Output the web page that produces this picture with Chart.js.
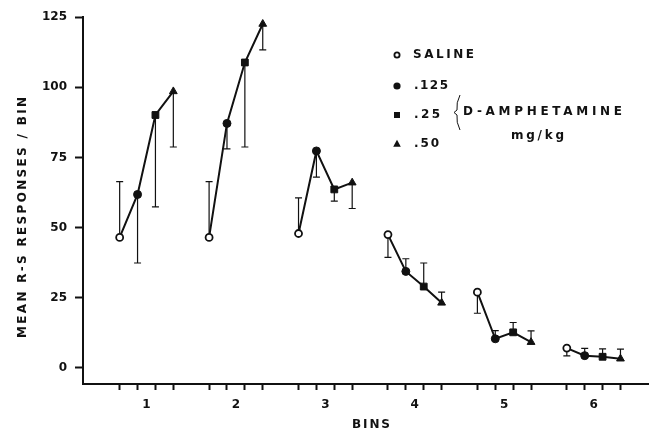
<!DOCTYPE html>
<html>
<head>
<meta charset="utf-8">
<script src="https://cdn.jsdelivr.net/npm/chart.js@4.4.1/dist/chart.umd.min.js"></script>
<style>
  html, body { margin: 0; padding: 0; background: #fff; }
</style>
</head>
<body>
<canvas id="chart" width="654" height="433"></canvas>
<script>
// x categories (bins) and where each dose sits inside a bin
const bins = [1, 2, 3, 4, 5, 6];
const doseOffsets = [-0.3, -0.1, 0.1, 0.3];
const doseLabels = ["SALINE", ".125", ".25", ".50"];
const yTicks = [0, 25, 50, 75, 100, 125];

// mean R-S responses per bin, one array per dose
const saline  = [46.5, 46.5, 47.9, 47.5, 27.0, 7.1];
const dose125 = [61.8, 87.1, 77.3, 34.4, 10.4, 4.4];
const dose25  = [90.1, 108.8, 63.6, 29.0, 12.7, 4.0];
const dose50  = [98.5, 122.5, 66.0, 23.2, 9.2, 3.3];

// where each error bar ends
const salineErr  = [66.4, 66.4, 60.6, 39.4, 19.5, 4.3];
const dose125Err = [37.4, 78.0, 68.0, 38.9, 13.3, 7.0];
const dose25Err  = [57.4, 78.7, 59.4, 37.4, 16.2, 6.8];
const dose50Err  = [78.7, 113.3, 56.8, 27.0, 13.2, 6.7];

const series = [saline, dose125, dose25, dose50];
const errors = [salineErr, dose125Err, dose25Err, dose50Err];

const FONT = "DejaVu Sans";
Chart.defaults.font.family = FONT;
Chart.defaults.color = "#111";

// one line per bin, four dose points each
const datasets = bins.map((b, i) => ({
  data: doseOffsets.map((o, j) => ({ x: b + o, y: series[j][i] })),
  borderColor: "#111",
  borderWidth: 2,
  pointStyle: ["circle", "circle", "rect", "triangle"],
  pointRadius: [3.5, 4, 4.8, 4.5],
  pointBackgroundColor: ["#fff", "#111", "#111", "#111"],
  pointBorderColor: "#111",
  pointBorderWidth: [1.8, 1, 1, 1],
  tension: 0
}));

// tick positions on x: one per dose point plus the bin centres (label only)
const xTickValues = [];
bins.forEach(b => {
  doseOffsets.forEach(o => xTickValues.push(+(b + o).toFixed(2)));
  xTickValues.push(b);
});
xTickValues.sort((a, b) => a - b);

function spacedText(ctx, text, x, y, width) {
  ctx.letterSpacing = "0px";
  const w = ctx.measureText(text).width;
  const ls = text.length > 1 ? Math.max(0, (width - w) / (text.length - 1)) : 0;
  ctx.letterSpacing = ls + "px";
  ctx.textAlign = "left";
  ctx.textBaseline = "middle";
  ctx.fillText(text, x, y);
  ctx.letterSpacing = "0px";
}

function marker(ctx, style, x, y, r, filled) {
  ctx.beginPath();
  if (style === "circle") {
    ctx.arc(x, y, r, 0, Math.PI * 2);
  } else if (style === "rect") {
    ctx.rect(x - r, y - r, r * 2, r * 2);
  } else {
    ctx.moveTo(x, y - r * 1.1);
    ctx.lineTo(x + r, y + r * 0.7);
    ctx.lineTo(x - r, y + r * 0.7);
    ctx.closePath();
  }
  if (filled) ctx.fill(); else ctx.stroke();
}

const errorBars = {
  id: "errorBars",
  beforeDatasetsDraw(chart) {
    const ctx = chart.ctx;
    const y = chart.scales.y;
    ctx.save();
    ctx.strokeStyle = "#111";
    ctx.lineWidth = 1.2;
    chart.data.datasets.forEach((ds, i) => {
      chart.getDatasetMeta(i).data.forEach((pt, j) => {
        const yEnd = y.getPixelForValue(errors[j][i]);
        ctx.beginPath();
        ctx.moveTo(pt.x, pt.y);
        ctx.lineTo(pt.x, yEnd);
        ctx.moveTo(pt.x - 3.5, yEnd);
        ctx.lineTo(pt.x + 3.5, yEnd);
        ctx.stroke();
      });
    });
    ctx.restore();
  }
};

const annotations = {
  id: "annotations",
  afterDraw(chart) {
    const ctx = chart.ctx;
    ctx.save();
    ctx.fillStyle = "#111";
    ctx.strokeStyle = "#111";

    // legend markers
    ctx.lineWidth = 1.8;
    marker(ctx, "circle", 397, 55, 2.6, false);
    marker(ctx, "circle", 397, 86, 3.6, true);
    marker(ctx, "rect", 397, 115, 3, true);
    marker(ctx, "triangle", 397, 144, 3.8, true);

    ctx.font = "bold 12px " + FONT;
    spacedText(ctx, doseLabels[0], 413, 55, 61);
    spacedText(ctx, doseLabels[1], 414, 86, 34);
    spacedText(ctx, doseLabels[2], 414, 115, 26);
    spacedText(ctx, doseLabels[3], 414, 144, 25);
    spacedText(ctx, "D-AMPHETAMINE", 463, 112, 159);
    ctx.font = "bold 12px " + FONT;
    spacedText(ctx, "mg/kg", 511, 136, 53);

    // brace
    ctx.lineWidth = 1;
    ctx.beginPath();
    ctx.moveTo(460, 95);
    ctx.quadraticCurveTo(456, 103, 457, 110);
    ctx.lineTo(454, 112.5);
    ctx.lineTo(457, 115);
    ctx.quadraticCurveTo(456, 122, 460, 130);
    ctx.stroke();

    // axis titles
    ctx.font = "bold 12px " + FONT;
    spacedText(ctx, "BINS", 352, 425, 38);
    ctx.translate(23, 338);
    ctx.rotate(-Math.PI / 2);
    spacedText(ctx, "MEAN R-S RESPONSES / BIN", 0, 0, 241);
    ctx.restore();
  }
};

new Chart(document.getElementById("chart"), {
  type: "line",
  data: { datasets },
  options: {
    responsive: false,
    animation: false,
    layout: { padding: { top: 17, left: 0, right: 2, bottom: 0 } },
    plugins: { legend: { display: false }, tooltip: { enabled: false } },
    scales: {
      x: {
        type: "linear",
        min: 0.29,
        max: 6.61,
        afterBuildTicks: s => { s.ticks = xTickValues.map(v => ({ value: v })); },
        afterFit: s => { s.height = 49; },
        grid: {
          drawOnChartArea: false,
          tickLength: 6,
          tickWidth: 2,
          tickColor: c => Number.isInteger(c.tick.value) ? "rgba(0,0,0,0)" : "#111"
        },
        border: { color: "#111", width: 2 },
        ticks: {
          autoSkip: false,
          maxRotation: 0,
          padding: 8,
          font: { size: 12, weight: "bold" },
          callback: v => Number.isInteger(v) ? String(v) : ""
        }
      },
      y: {
        min: -5.7,
        max: 125,
        afterBuildTicks: s => { s.ticks = yTicks.map(v => ({ value: v })); },
        afterFit: s => { s.width = 83; },
        grid: { drawOnChartArea: false, tickLength: 8, tickWidth: 2, tickColor: "#111" },
        border: { color: "#111", width: 2 },
        ticks: { padding: 8, font: { size: 12, weight: "bold" } }
      }
    }
  },
  plugins: [errorBars, annotations]
});
</script>
</body>
</html>
